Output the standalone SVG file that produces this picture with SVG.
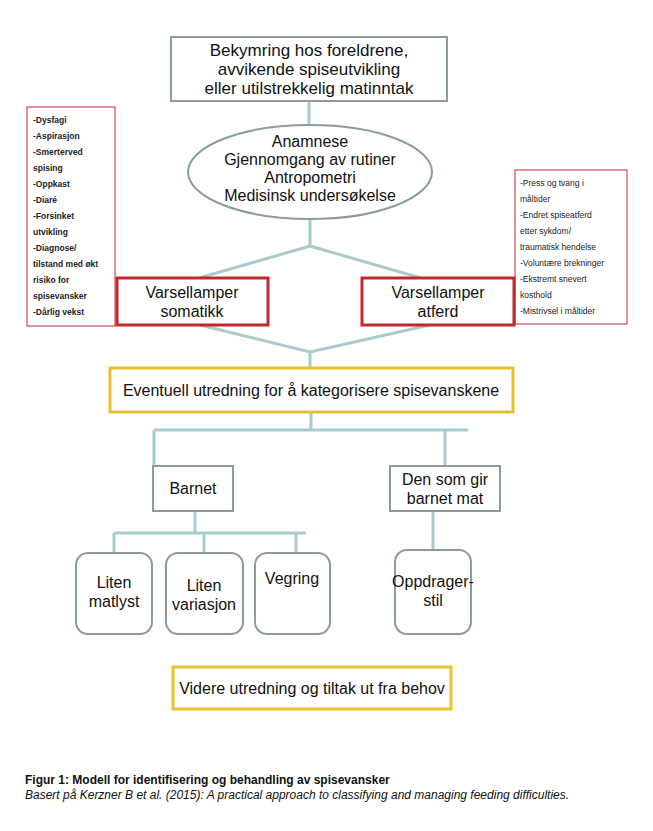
<svg xmlns="http://www.w3.org/2000/svg" width="653" height="831" viewBox="0 0 653 831">
<style>
text{font-family:"Liberation Sans",Arial,sans-serif;fill:#111}
.m{font-size:16px;text-anchor:middle}
.t{font-size:17px}
.s{font-size:8.5px;font-weight:bold;fill:#222}
.gray{fill:#fff;stroke:#8a9c9c;stroke-width:2}
.red{fill:#fff;stroke:#c0282d;stroke-width:3}
.thin{fill:#fff;stroke:#c0282d;stroke-width:1}
.yel{fill:#fff;stroke:#e8c12a;stroke-width:3}
.con path{fill:none;stroke:#a8ccce;stroke-width:3}
</style>
<rect width="653" height="831" fill="#fff"/>
<g class="con">
<path d="M309 101V126"/>
<path d="M310 219V246L199 278M310 246L421 278"/>
<path d="M200 325L310 352L430 325M310 352V368"/>
<path d="M311 412V430M154 430H468M154 430V466M445 430V466"/>
<path d="M195 511V533M114 533H306M114 533V553M204 533V553M296 533V553M433 511V550"/>
</g>
<g id="top"><rect class="gray" x="171" y="37" width="276" height="64"/>
<text class="m t" x="309" y="56">Bekymring hos foreldrene,</text><text class="m t" x="309" y="75">avvikende spiseutvikling</text><text class="m t" x="309" y="94">eller utilstrekkelig matinntak</text></g>
<g id="ellipse"><ellipse class="gray" cx="310" cy="172" rx="122" ry="47"/>
<text class="m" x="310" y="147">Anamnese</text><text class="m" x="310" y="165">Gjennomgang av rutiner</text><text class="m" x="310" y="183">Antropometri</text><text class="m" x="310" y="201">Medisinsk undersøkelse</text></g>
<g id="list-left"><rect class="thin" x="27" y="107" width="88" height="219"/>
<text class="s" x="33" y="123">-Dysfagi</text><text class="s" x="33" y="139">-Aspirasjon</text><text class="s" x="33" y="155">-Smerterved</text><text class="s" x="33" y="171">spising</text><text class="s" x="33" y="187">-Oppkast</text><text class="s" x="33" y="203">-Diaré</text><text class="s" x="33" y="219">-Forsinket</text><text class="s" x="33" y="235">utvikling</text><text class="s" x="33" y="251">-Diagnose/</text><text class="s" x="33" y="267">tilstand med økt</text><text class="s" x="33" y="283">risiko for</text><text class="s" x="33" y="299">spisevansker</text><text class="s" x="33" y="315">-Dårlig vekst</text></g>
<g id="list-right"><rect class="thin" x="515" y="170" width="112" height="154"/>
<text class="s" x="520" y="186" style="font-weight:normal">-Press og tvang i</text><text class="s" x="520" y="202" style="font-weight:normal">måltider</text><text class="s" x="520" y="218" style="font-weight:normal">-Endret spiseatferd</text><text class="s" x="520" y="234" style="font-weight:normal">etter sykdom/</text><text class="s" x="520" y="250" style="font-weight:normal">traumatisk hendelse</text><text class="s" x="520" y="266" style="font-weight:normal">-Voluntære brekninger</text><text class="s" x="520" y="282" style="font-weight:normal">-Ekstremt snevert</text><text class="s" x="520" y="298" style="font-weight:normal">kosthold</text><text class="s" x="520" y="314" style="font-weight:normal">-Mistrivsel i måltider</text></g>
<g id="somatikk"><rect class="red" x="117" y="278" width="151" height="47"/><text class="m" x="192" y="298">Varsellamper</text><text class="m" x="192" y="317">somatikk</text></g>
<g id="atferd"><rect class="red" x="362" y="278" width="152" height="47"/><text class="m" x="438" y="298">Varsellamper</text><text class="m" x="438" y="317">atferd</text></g>
<g id="utredning"><rect class="yel" x="110" y="368" width="403" height="44"/><text class="m" x="311" y="396">Eventuell utredning for å kategorisere spisevanskene</text></g>
<g id="barnet"><rect class="gray" x="153" y="466" width="80" height="45"/><text class="m" x="193" y="494">Barnet</text></g>
<g id="densom"><rect class="gray" x="390" y="466" width="110" height="45"/><text class="m" x="445" y="485">Den som gir</text><text class="m" x="445" y="504">barnet mat</text></g>
<g id="matlyst"><rect class="gray" x="76" y="553" width="76" height="81" rx="12"/><text class="m" x="114" y="588">Liten</text><text class="m" x="114" y="607">matlyst</text></g>
<g id="variasjon"><rect class="gray" x="166" y="553" width="77" height="81" rx="12"/><text class="m" x="204" y="591">Liten</text><text class="m" x="204" y="610">variasjon</text></g>
<g id="vegring"><rect class="gray" x="255" y="553" width="75" height="81" rx="12"/><text class="m" x="292" y="584">Vegring</text></g>
<g id="oppdrager"><rect class="gray" x="395" y="550" width="76" height="84" rx="12"/><text class="m" x="433" y="587">Oppdrager-</text><text class="m" x="433" y="606">stil</text></g>
<g id="videre"><rect class="yel" x="173" y="667" width="278" height="42"/><text class="m" x="312" y="694">Videre utredning og tiltak ut fra behov</text></g>
<text x="25" y="784" style="font-size:12px;font-weight:bold">Figur 1: Modell for identifisering og behandling av spisevansker</text>
<text x="25" y="799" style="font-size:12px;font-style:italic">Basert på Kerzner B et al. (2015): A practical approach to classifying and managing feeding difficulties.</text>
</svg>
